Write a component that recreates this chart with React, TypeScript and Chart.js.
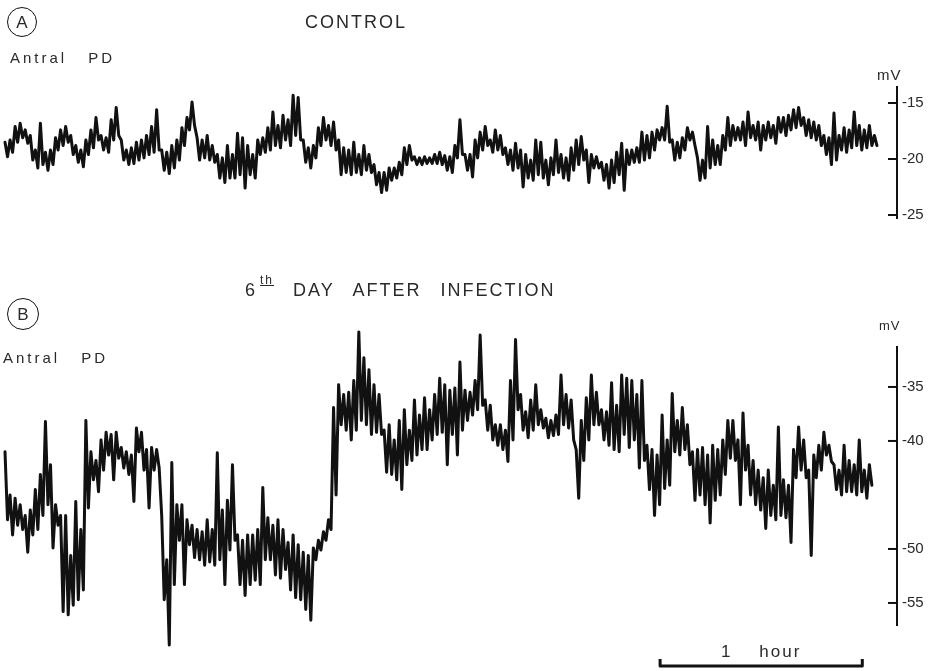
import React, { useEffect, useRef } from 'react';
import { Chart, registerables } from 'chart.js';

Chart.register(...registerables);

// ---------- data (time in minutes, potential in mV) ----------
const sampleStepMin = 1.5; // one envelope sample every 1.5 min
const timeAxisMaxMin = 264.7;

// Panel A – control: upper / lower envelope of the noisy trace
const controlHigh = [
  -18.5, -18.3, -17.1, -16.8, -17.4, -17.9, -19.2, -16.8, -19.4, -19.2,
  -18.1, -17.4, -17.1, -17.9, -18.8, -19.2, -18.3, -17.4, -16.3, -17.9,
  -18.1, -16.5, -15.4, -18.3, -19.2, -19.0, -18.5, -18.3, -17.9, -17.1,
  -15.6, -19.2, -19.4, -18.8, -18.3, -17.2, -16.3, -14.9, -18.1, -18.3,
  -17.9, -18.8, -19.6, -19.9, -18.8, -19.6, -17.7, -18.1, -18.8, -19.6,
  -18.3, -18.1, -17.2, -15.8, -17.0, -16.1, -16.5, -14.3, -14.5, -18.3,
  -19.0, -18.8, -17.2, -16.3, -17.0, -16.7, -18.3, -19.0, -19.2, -18.5,
  -19.6, -18.8, -19.6, -20.5, -21.2, -21.2, -20.8, -20.8, -20.3, -19.0,
  -18.8, -19.8, -19.9, -19.8, -19.9, -19.6, -19.4, -19.7, -19.8, -18.8,
  -16.5, -19.6, -19.6, -18.3, -17.6, -17.1, -18.3, -17.4, -17.9, -19.0,
  -19.2, -18.6, -19.2, -19.6, -20.1, -18.3, -18.5, -20.1, -19.9, -18.3,
  -19.6, -19.9, -19.0, -18.3, -18.0, -19.2, -19.6, -19.8, -20.3, -20.5,
  -20.1, -19.4, -18.6, -19.2, -19.2, -19.0, -17.6, -17.9, -17.6, -17.4,
  -17.2, -15.3, -18.3, -18.5, -18.1, -17.2, -17.6, -19.9, -20.1, -17.1,
  -18.3, -18.8, -17.9, -16.3, -17.0, -17.2, -16.7, -15.8, -17.0, -16.7,
  -17.0, -16.7, -17.0, -16.3, -16.3, -16.1, -15.6, -15.4, -16.3, -16.5,
  -16.7, -17.0, -17.9, -18.1, -15.9, -17.9, -17.2, -17.4, -15.8, -17.0,
  -17.4, -17.0, -17.9,
];
const controlLow = [
  -19.8, -19.4, -18.5, -18.1, -18.6, -20.1, -20.8, -20.5, -21.0, -20.5,
  -19.2, -18.8, -18.5, -19.6, -20.3, -20.7, -19.6, -19.0, -18.3, -19.2,
  -19.4, -18.3, -17.9, -20.1, -20.5, -20.4, -20.1, -19.9, -19.6, -19.4,
  -19.2, -21.0, -21.3, -20.8, -20.1, -18.8, -17.4, -17.0, -20.1, -19.9,
  -20.1, -20.3, -21.7, -22.1, -21.7, -21.7, -21.4, -22.6, -21.4, -21.7,
  -19.6, -19.4, -19.2, -18.8, -19.0, -18.3, -18.8, -17.9, -18.3, -20.3,
  -20.8, -19.9, -18.8, -18.3, -18.8, -19.2, -21.4, -21.2, -21.4, -21.2,
  -21.4, -21.0, -21.2, -22.3, -23.0, -22.8, -21.9, -21.7, -21.4, -20.5,
  -20.1, -20.5, -20.5, -20.4, -20.4, -20.4, -20.5, -21.0, -21.2, -19.9,
  -19.6, -21.0, -21.6, -19.9, -19.2, -18.8, -19.4, -19.2, -19.6, -20.5,
  -21.0, -20.8, -22.5, -21.7, -21.9, -21.4, -21.7, -22.3, -21.4, -21.2,
  -21.7, -21.9, -21.0, -20.5, -20.1, -22.1, -20.8, -20.8, -21.9, -22.6,
  -22.1, -21.4, -22.8, -20.5, -20.3, -20.3, -20.1, -19.9, -19.2, -18.3,
  -18.3, -18.5, -20.1, -19.9, -19.2, -18.3, -18.8, -21.9, -21.7, -20.8,
  -20.5, -20.5, -19.2, -18.8, -18.3, -18.3, -18.8, -18.1, -18.3, -19.2,
  -18.3, -18.1, -18.6, -17.6, -17.9, -17.4, -17.2, -17.0, -17.9, -18.1,
  -18.3, -18.8, -19.6, -20.5, -20.1, -19.2, -19.4, -19.0, -18.8, -19.2,
  -19.0, -18.8, -18.8,
];

// Panel B – 6th day after infection
const infectedHigh = [
  -41.0, -45.0, -45.3, -45.9, -46.9, -46.4, -44.5, -43.1, -38.2, -42.2,
  -45.9, -46.9, -46.9, -50.6, -45.6, -48.2, -38.1, -41.0, -41.8, -39.9,
  -39.2, -39.4, -39.2, -40.6, -41.0, -41.3, -38.8, -39.2, -40.8, -40.6,
  -40.8, -46.9, -51.0, -42.0, -45.9, -45.9, -47.3, -47.8, -48.2, -48.4,
  -47.3, -48.2, -41.1, -46.4, -45.5, -42.2, -48.7, -49.2, -48.7, -48.7,
  -48.2, -44.3, -47.1, -47.8, -47.3, -48.2, -49.4, -48.7, -49.6, -50.3,
  -50.6, -49.9, -49.2, -48.4, -47.3, -36.9, -34.8, -35.7, -35.5, -34.4,
  -29.9, -32.3, -33.4, -34.8, -35.7, -39.0, -38.5, -39.9, -38.1, -37.1,
  -39.0, -36.2, -37.6, -36.0, -37.1, -35.7, -34.2, -34.8, -35.3, -35.1,
  -32.7, -35.3, -35.5, -34.4, -30.2, -36.2, -36.7, -38.5, -38.5, -39.0,
  -34.4, -30.6, -35.7, -37.3, -36.2, -34.8, -37.1, -37.9, -38.1, -37.6,
  -33.9, -35.7, -36.2, -40.8, -38.1, -36.0, -33.9, -35.5, -37.1, -37.3,
  -34.6, -36.7, -33.9, -34.2, -34.4, -35.7, -34.4, -40.4, -40.8, -41.3,
  -37.6, -39.9, -35.6, -38.1, -36.9, -38.5, -41.0, -40.8, -40.6, -41.3,
  -40.4, -40.8, -39.9, -38.1, -38.1, -39.9, -37.4, -40.4, -41.8, -42.7,
  -43.4, -42.7, -44.1, -38.7, -43.6, -44.1, -40.8, -38.7, -39.9, -42.7,
  -41.3, -40.4, -39.2, -40.4, -42.2, -42.7, -40.4, -41.8, -42.2, -39.9,
  -42.7, -42.2,
];
const infectedLow = [
  -47.3, -48.7, -47.8, -48.2, -50.3, -48.7, -48.2, -46.9, -45.9, -49.9,
  -47.8, -55.8, -56.1, -55.2, -54.7, -53.8, -46.2, -43.6, -44.7, -42.7,
  -41.3, -43.6, -41.6, -42.5, -43.1, -45.6, -41.0, -42.7, -46.2, -42.7,
  -42.5, -54.7, -58.9, -53.3, -49.2, -53.3, -49.6, -50.8, -51.0, -51.5,
  -51.2, -51.5, -51.0, -53.3, -50.1, -49.2, -53.3, -54.3, -53.3, -52.9,
  -53.3, -51.0, -51.0, -52.4, -52.7, -51.9, -53.8, -54.5, -54.7, -55.6,
  -56.6, -51.0, -50.1, -49.2, -48.2, -45.0, -38.5, -39.0, -39.9, -39.0,
  -38.1, -38.5, -39.4, -39.2, -39.4, -42.9, -43.1, -43.6, -44.5, -42.2,
  -41.8, -41.3, -40.8, -40.8, -39.9, -39.4, -39.2, -42.2, -39.4, -41.3,
  -39.0, -38.1, -37.6, -37.1, -36.7, -39.0, -39.9, -40.4, -40.8, -41.9,
  -39.9, -37.1, -39.0, -39.7, -39.0, -38.5, -38.8, -39.7, -39.5, -39.4,
  -38.5, -38.8, -39.9, -45.3, -41.8, -39.9, -38.5, -38.5, -39.9, -40.4,
  -40.8, -41.0, -39.4, -40.6, -39.9, -42.5, -41.8, -44.5, -46.9, -45.9,
  -44.4, -44.1, -41.0, -41.3, -40.8, -42.2, -45.5, -45.0, -45.9, -47.6,
  -45.5, -45.0, -43.1, -41.6, -41.8, -45.9, -42.7, -45.0, -45.9, -46.4,
  -48.1, -46.9, -47.3, -46.9, -47.1, -49.4, -43.4, -42.7, -43.4, -50.6,
  -43.4, -42.7, -41.3, -41.9, -44.5, -45.0, -44.7, -44.7, -45.0, -44.7,
  -45.3, -44.1,
];

const controlTicks = [-25, -20, -15];
const controlRange = [-25.27, -13.57];
const infectedTicks = [-55, -50, -40, -35];
const infectedRange = [-57.04, -31.3];

const scaleBarStartMin = 194.4;
const scaleBarLengthMin = 60;
const scaleBarLabel = '1 hour';

// ---------- styling ----------
const FONT = '"Liberation Sans", "DejaVu Sans", Arial, sans-serif';
const INK = '#111111';
const TEXT = '#2a2a2a';

function buildTrace(high: number[], low: number[]) {
  const pts: { x: number; y: number }[] = [];
  high.forEach((h, i) => {
    pts.push({ x: i * sampleStepMin, y: h });
    pts.push({ x: i * sampleStepMin + sampleStepMin / 2, y: low[i] });
  });
  return pts;
}

const inwardTicks = {
  id: 'inwardTicks',
  afterDraw(chart: any) {
    const s = chart.scales.y;
    const ctx = chart.ctx;
    ctx.save();
    ctx.strokeStyle = INK;
    ctx.lineWidth = 2;
    s.ticks.forEach((t: any) => {
      const y = s.getPixelForValue(t.value);
      ctx.beginPath();
      ctx.moveTo(s.left - 9, y);
      ctx.lineTo(s.left, y);
      ctx.stroke();
    });
    ctx.restore();
  },
};

const scaleBar = {
  id: 'scaleBar',
  afterDraw(chart: any) {
    const xs = chart.scales.x;
    const ctx = chart.ctx;
    const x0 = xs.getPixelForValue(scaleBarStartMin);
    const x1 = xs.getPixelForValue(scaleBarStartMin + scaleBarLengthMin);
    const y = chart.chartArea.bottom + 41;
    ctx.save();
    ctx.strokeStyle = INK;
    ctx.lineWidth = 3;
    ctx.lineJoin = 'round';
    ctx.beginPath();
    ctx.moveTo(x0, y - 7);
    ctx.lineTo(x0, y);
    ctx.lineTo(x1, y);
    ctx.lineTo(x1, y - 7);
    ctx.stroke();
    ctx.fillStyle = TEXT;
    ctx.font = `17px ${FONT}`;
    ctx.textAlign = 'center';
    ctx.textBaseline = 'alphabetic';
    (ctx as any).letterSpacing = '2px';
    ctx.fillText(scaleBarLabel.replace(' ', '    '), (x0 + x1) / 2, y - 9);
    ctx.restore();
  },
};

type TraceProps = {
  high: number[];
  low: number[];
  range: number[];
  ticks: number[];
  top: number;
  height: number;
  padTop: number;
  padBottom: number;
  extra?: any[];
};

function TraceChart({ high, low, range, ticks, top, height, padTop, padBottom, extra = [] }: TraceProps) {
  const ref = useRef<HTMLCanvasElement>(null);
  useEffect(() => {
    if (!ref.current) return;
    const chart = new Chart(ref.current, {
      type: 'line',
      data: {
        datasets: [
          {
            data: buildTrace(high, low),
            borderColor: INK,
            borderWidth: 3,
            borderJoinStyle: 'round',
            borderCapStyle: 'round',
            pointRadius: 0,
            tension: 0,
            fill: false,
            clip: false as any,
          },
        ],
      },
      options: {
        animation: false,
        responsive: false,
        events: [],
        layout: { padding: { left: 5, right: 5, top: padTop, bottom: padBottom } },
        plugins: { legend: { display: false }, tooltip: { enabled: false } },
        scales: {
          x: { type: 'linear', min: 0, max: timeAxisMaxMin, display: false },
          y: {
            type: 'linear',
            position: 'right',
            min: range[0],
            max: range[1],
            afterBuildTicks: (s: any) => {
              s.ticks = ticks.map((v) => ({ value: v }));
            },
            afterFit: (s: any) => {
              s.width = 40;
            },
            grid: { display: false, drawTicks: false },
            border: { display: true, color: INK, width: 2 },
            ticks: { color: TEXT, font: { family: FONT, size: 15 }, padding: 5 },
          },
        },
      } as any,
      plugins: [inwardTicks, ...extra],
    });
    return () => chart.destroy();
  }, []);
  return (
    <canvas
      ref={ref}
      width={942}
      height={height}
      style={{ position: 'absolute', left: 0, top, width: 942, height }}
    />
  );
}

const abs = (left: number, top: number, extra: React.CSSProperties = {}): React.CSSProperties => ({
  position: 'absolute',
  left,
  top,
  fontFamily: FONT,
  color: TEXT,
  whiteSpace: 'nowrap',
  lineHeight: 1,
  ...extra,
});

function Circled({ letter, left, top, size }: { letter: string; left: number; top: number; size: number }) {
  return (
    <div
      style={abs(left, top, {
        width: size,
        height: size,
        border: `1.5px solid ${INK}`,
        borderRadius: '50%',
        boxSizing: 'border-box',
        display: 'flex',
        alignItems: 'center',
        justifyContent: 'center',
        fontSize: 17,
      })}
    >
      {letter}
    </div>
  );
}

export default function App() {
  return (
    <div style={{ position: 'fixed', left: 0, top: 0, width: 942, height: 671, background: '#fff', overflow: 'hidden' }}>
      <TraceChart
        high={controlHigh}
        low={controlLow}
        range={controlRange}
        ticks={controlTicks}
        top={0}
        height={240}
        padTop={87}
        padBottom={22}
      />
      <TraceChart
        high={infectedHigh}
        low={infectedLow}
        range={infectedRange}
        ticks={infectedTicks}
        top={240}
        height={431}
        padTop={107}
        padBottom={46}
        extra={[scaleBar]}
      />
      <Circled letter="A" left={7} top={7} size={30} />
      <div style={abs(305, 13, { fontSize: 18, letterSpacing: 2 })}>CONTROL</div>
      <div style={abs(10, 50, { fontSize: 15, letterSpacing: 3, wordSpacing: 14 })}>Antral PD</div>
      <div style={abs(877, 67, { fontSize: 15, letterSpacing: 1 })}>mV</div>

      <Circled letter="B" left={7} top={298} size={32} />
      <div style={abs(245, 281, { fontSize: 18, letterSpacing: 2, wordSpacing: 12 })}>
        6<sup style={{ fontSize: 12, verticalAlign: 'top', position: 'relative', top: -7, marginLeft: 3, textDecoration: 'underline' }}>th</sup>
        {' '}DAY AFTER INFECTION
      </div>
      <div style={abs(3, 350, { fontSize: 15, letterSpacing: 3, wordSpacing: 14 })}>Antral PD</div>
      <div style={abs(879, 319, { fontSize: 13, letterSpacing: 1 })}>mV</div>
    </div>
  );
}
